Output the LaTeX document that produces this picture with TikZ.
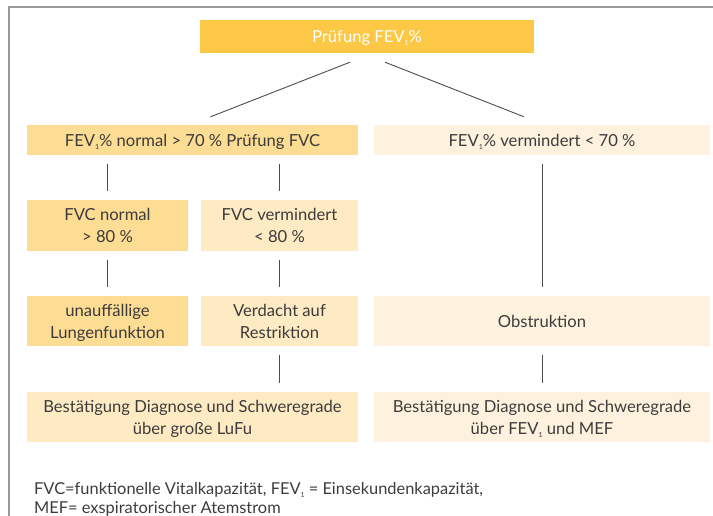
\documentclass[tikz,border=0pt]{standalone}
\usepackage{xcolor}
\usepackage{fontspec}
\setmainfont{Lato}
\usepackage{tikz}
\usetikzlibrary{positioning, calc}
\definecolor{boxdark}{HTML}{FCC845}
\definecolor{boxmid}{HTML}{FDDC93}
\definecolor{boxlight}{HTML}{FEEAC3}
\definecolor{boxpale}{HTML}{FEF2DE}
\definecolor{textgray}{HTML}{3C3C3C}
\newcommand{\eins}{\raisebox{-0.4ex}{\fontsize{7}{7}\selectfont 1}}

\begin{document}
\begin{tikzpicture}[x=1pt, y=-1pt, every node/.style={font=\fontsize{16.6}{22}\selectfont}]
		\tikzstyle{kasten}=[draw=none, inner sep=0pt, align=center, text=textgray, text depth=0pt]
		\tikzstyle{kbreit}=[kasten, minimum width=331pt]
		\tikzstyle{kschmal}=[kasten, minimum width=159pt]
		\tikzstyle{conn}=[draw=black!70, line width=0.9pt, shorten <=9pt, shorten >=9pt]
		
		\useasboundingbox (0,0) rectangle (713,516);
		\draw[black!40, line width=1.5pt] (713,7) -- (9,7) -- (9,516);
		
		\node [kasten, fill=boxdark, text=white, minimum width=334pt, minimum height=33pt] (K1) at (367,36.5) {Prüfung FEV\eins\%};
		
		%% zweite Reihe
		\node [kbreit, fill=boxmid, minimum height=30pt] (K2) at (192.5,140) {FEV\eins\% normal > 70 \% Prüfung FVC};
		\node [kbreit, fill=boxpale, minimum width=336pt, minimum height=30pt] (K3) at (542,140) {FEV\eins\% vermindert < 70 \%};
		
		%% FVC
		\node [kschmal, fill=boxmid, minimum width=161pt, minimum height=51pt] (K4) at (107.5,225.5) {FVC normal\\> 80 \%};
		\node [kschmal, fill=boxlight, minimum width=157pt, minimum height=51pt] (K5) at (279.5,225.5) {FVC vermindert\\< 80 \%};
		
		\node [kschmal, fill=boxmid, minimum width=161pt, minimum height=50pt] (K6) at (107.5,321) {unauffällige\\Lungenfunktion};
		\node [kschmal, fill=boxlight, minimum width=157pt, minimum height=50pt] (K7) at (279.5,321) {Verdacht auf\\Restriktion};
		\node [kbreit, fill=boxpale, minimum width=336pt, minimum height=50pt] (K8) at (542,321) {Obstruktion};
		
		%% Bestaetigung
		\node [kbreit, fill=boxlight, minimum height=50pt] (K9) at (192.5,417) {Bestätigung Diagnose und Schweregrade\\über große LuFu};
		\node [kbreit, fill=boxpale, minimum width=336pt, minimum height=50pt] (K10) at (542,417) {Bestätigung Diagnose und Schweregrade\\über FEV\eins{} und MEF};
		
		\draw [draw=black!70, line width=0.9pt] ([xshift=-17pt, yshift=-9pt]K1.south) -- ([xshift=18pt, yshift=8pt]K2.north);
		\draw [draw=black!70, line width=0.9pt] ([xshift=18pt, yshift=-9pt]K1.south) -- ([xshift=-18pt, yshift=8pt]K3.north);
		
		\draw [conn] (K4.north |- K2.south) -- (K4.north);
		\draw [conn] (K5.north |- K2.south) -- (K5.north);
		\draw [conn] (K4) -- (K6);
		\draw [conn] (K5) -- (K7);
		\draw [conn] (K7.south) -- (K7.south |- K9.north);
		\draw [conn] (K3) -- (K8);
		\draw [conn] (K8) -- (K10);
		
		\node [anchor=north west, align=left, inner sep=0pt, text=textgray, font=\fontsize{16.4}{19.5}\selectfont] (L1) at (34,482) {FVC=funktionelle Vitalkapazität, FEV\eins{} = Einsekundenkapazität,\\MEF= exspiratorischer Atemstrom};
\end{tikzpicture}
\end{document}
